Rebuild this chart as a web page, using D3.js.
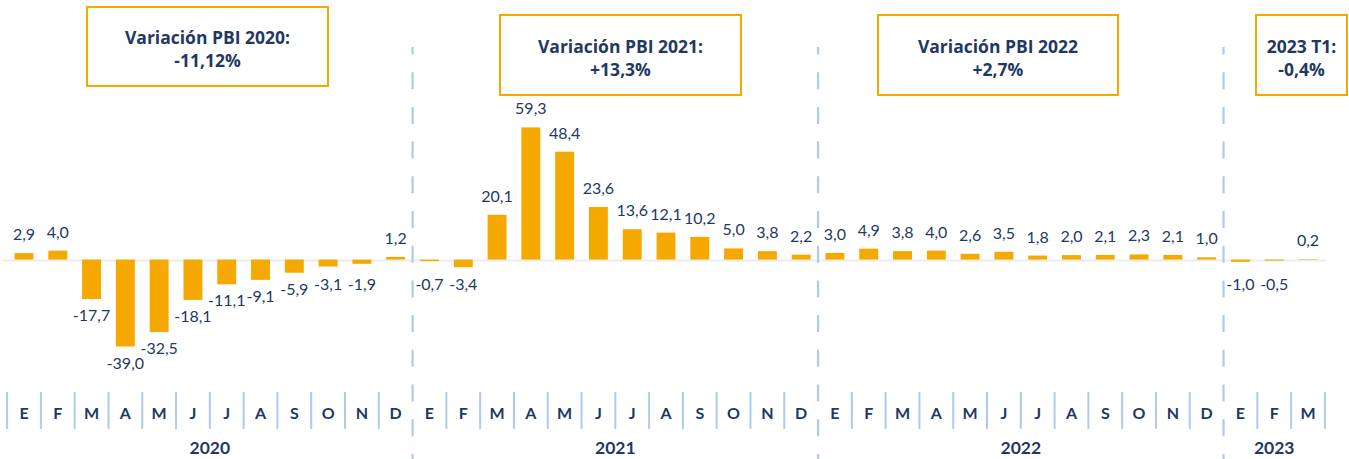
<!DOCTYPE html>
<html><head><meta charset="utf-8">
<script src="https://cdn.jsdelivr.net/npm/d3@7"></script>
<style>body{margin:0;background:#fff}svg{display:block}</style>
</head><body>
<svg id="c" width="1349" height="459"></svg>
<script>
const years = ["2020","2021","2022","2023"];
const monthLetters = ["E","F","M","A","M","J","J","A","S","O","N","D"];
const values2020 = [2.9,4.0,-17.7,-39.0,-32.5,-18.1,-11.1,-9.1,-5.9,-3.1,-1.9,1.2];
const values2021 = [-0.7,-3.4,20.1,59.3,48.4,23.6,13.6,12.1,10.2,5.0,3.8,2.2];
const values2022 = [3.0,4.9,3.8,4.0,2.6,3.5,1.8,2.0,2.1,2.3,2.1,1.0];
const values2023 = [-1.0,-0.5,0.2];
const boxLines = [["Variación PBI 2020:","-11,12%"],["Variación PBI 2021:","+13,3%"],["Variación PBI 2022","+2,7%"],["2023 T1:","-0,4%"]];

const seriesByYear = [values2020, values2021, values2022, values2023];
const data = [];
seriesByYear.forEach((arr, yi) => arr.forEach((v, mi) => data.push({i: data.length, year: years[yi], yi, m: monthLetters[mi], v})));

const NAVY = "#1f3864", ORANGE = "#f5a800", BLUE = "#aecaee";
const svg = d3.select("#c");
const x = d3.scaleBand().domain(data.map(d => d.i)).range([7.1, 1324.9]).paddingInner(0.44).paddingOuter(0.22);
const y = d3.scaleLinear().domain([-39, 59.3]).range([346.5, 127.4]);
const step = x.step();
const edge = i => 7.1 + i * step;
const y0 = y(0);

svg.append("line").attr("x1", 3).attr("x2", 1326).attr("y1", y0 + 1).attr("y2", y0 + 1)
  .attr("stroke", "#ececec").attr("stroke-width", 2);

const yearStart = []; let acc = 0;
seriesByYear.forEach(a => { yearStart.push(acc); acc += a.length; });
const boundaries = yearStart.slice(1);

boundaries.forEach(b => {
  svg.append("line").attr("x1", edge(b)).attr("x2", edge(b)).attr("y1", 47).attr("y2", 459)
    .attr("stroke", BLUE).attr("stroke-width", 2.2).attr("stroke-dasharray", "17,17.7").attr("stroke-dashoffset", 9.5);
});

for (let b = 0; b <= data.length; b++) {
  if (boundaries.includes(b)) continue;
  svg.append("line").attr("x1", edge(b)).attr("x2", edge(b)).attr("y1", 392).attr("y2", 429)
    .attr("stroke", BLUE).attr("stroke-width", 2);
}

svg.selectAll("rect.bar").data(data).join("rect").attr("class", "bar")
  .attr("x", d => x(d.i)).attr("width", x.bandwidth())
  .attr("y", d => Math.min(y(d.v), y0)).attr("height", d => Math.abs(y(d.v) - y0))
  .attr("fill", ORANGE);

const fmt = v => v.toFixed(1).replace(".", ",");
svg.selectAll("text.val").data(data).join("text").attr("class", "val")
  .attr("x", d => x(d.i) + x.bandwidth() / 2)
  .attr("y", d => d.v >= 0 ? y(d.v) - 13 : Math.max(y(d.v) + 22, 290))
  .attr("text-anchor", "middle").attr("font-family", "Lato, sans-serif").attr("font-size", 16)
  .attr("fill", NAVY).text(d => fmt(d.v));

svg.selectAll("text.mon").data(data).join("text").attr("class", "mon")
  .attr("x", d => x(d.i) + x.bandwidth() / 2).attr("y", 419)
  .attr("text-anchor", "middle").attr("font-family", "Lato, sans-serif").attr("font-weight", 700)
  .attr("font-size", 16).attr("fill", NAVY).text(d => d.m);

years.forEach((yr, yi) => {
  const s = yearStart[yi], e = s + seriesByYear[yi].length;
  svg.append("text").attr("x", (edge(s) + edge(e)) / 2).attr("y", 454)
    .attr("text-anchor", "middle").attr("font-family", "Lato, sans-serif").attr("font-weight", 700)
    .attr("font-size", 17.5).attr("fill", NAVY).text(yr);
});

const boxes = [
  {x0: 87, x1: 328, y0: 7, y1: 86},
  {x0: 500, x1: 741, y0: 15, y1: 95},
  {x0: 878, x1: 1118, y0: 15, y1: 95},
  {x0: 1256, x1: 1347, y0: 15, y1: 95}
];
boxes.forEach((b, i) => {
  svg.append("rect").attr("x", b.x0).attr("y", b.y0).attr("width", b.x1 - b.x0).attr("height", b.y1 - b.y0)
    .attr("fill", "#fff").attr("stroke", ORANGE).attr("stroke-width", 2);
  const cx = (b.x0 + b.x1) / 2, cy = (b.y0 + b.y1) / 2;
  boxLines[i].forEach((t, j) => {
    svg.append("text").attr("x", cx).attr("y", cy - 2.5 + j * 23)
      .attr("text-anchor", "middle").attr("font-family", "'Open Sans', sans-serif").attr("font-weight", 700)
      .attr("font-size", 17.5).attr("fill", NAVY).text(t);
  });
});
</script>
</body></html>
